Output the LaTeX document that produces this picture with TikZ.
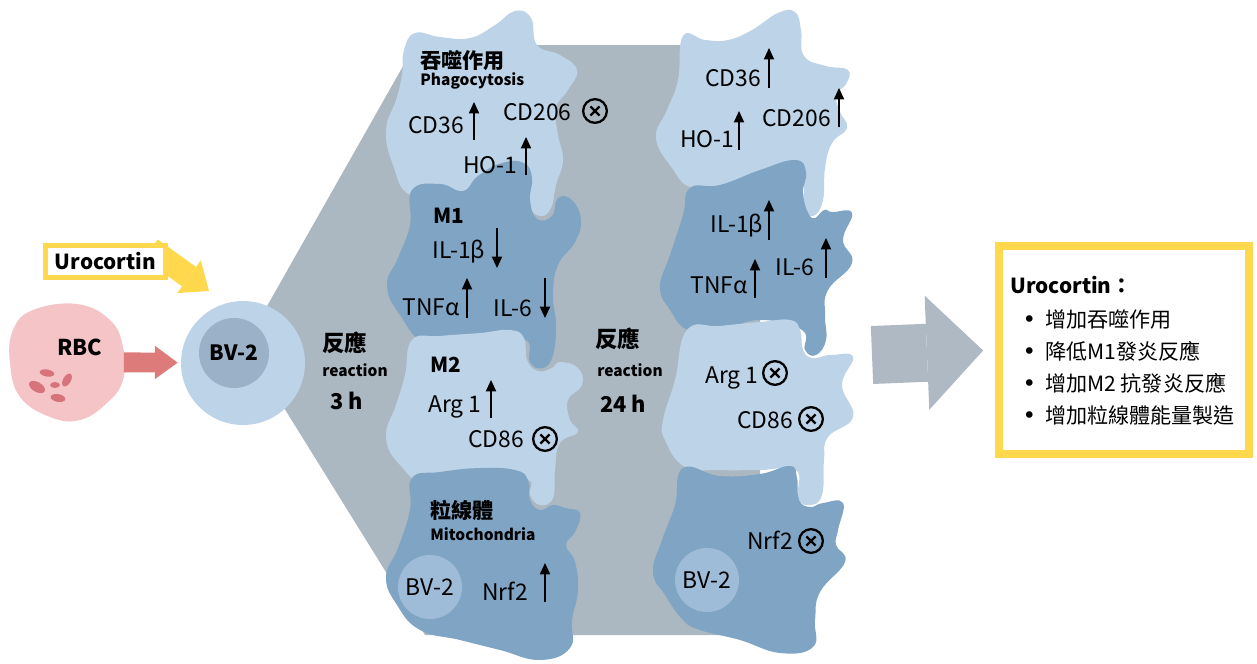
\documentclass[tikz,border=0pt]{standalone}
\usepackage{fontspec}
\setmainfont{Noto Sans CJK TC}
\newfontfamily\dotfont{DejaVu Sans}
\usetikzlibrary{arrows.meta}

\definecolor{cellpale}{HTML}{BDD3E7}
\definecolor{celldeep}{HTML}{7FA4C4}
\definecolor{nucpale}{HTML}{9EBCD7}
\definecolor{nucbv}{HTML}{9BB1C7}
\definecolor{slate}{HTML}{ABB8C2}
\definecolor{arrowgray}{HTML}{AEB9C3}
\definecolor{uroyellow}{HTML}{FFD84E}
\definecolor{rbcpink}{HTML}{F4C4C7}
\definecolor{rbcred}{HTML}{DD7B7B}
\definecolor{rbcdot}{HTML}{D7737A}

\pgfdeclarelayer{back}
\pgfsetlayers{back,main}

\newcommand\bul{\makebox[11.3pt][l]{\hspace{-1.5pt}\dotfont\fontsize{13}{14}\selectfont •}}

\tikzset{
  lbl/.style={inner sep=0pt,anchor=base west,font=\fontsize{13}{15}\selectfont},
  ttl/.style={inner sep=0pt,anchor=base west,font=\bfseries\fontsize{11.8}{14}\selectfont},
  zh/.style={inner sep=0pt,anchor=base west,font=\bfseries\fontsize{12}{14}\selectfont},
  en/.style={inner sep=0pt,anchor=base west,font=\bfseries\fontsize{8.8}{11}\selectfont},
  rx/.style={inner sep=0pt,anchor=base west,font=\bfseries\fontsize{8.8}{11}\selectfont},
  hrs/.style={inner sep=0pt,anchor=base west,font=\bfseries\fontsize{12.4}{15}\selectfont},
  pt/.style={inner sep=0pt,anchor=base west,font=\fontsize{12}{14}\selectfont},
  upar/.style={line width=1.1pt,-{Triangle[length=6.5pt,width=6pt,line width=0pt]}},
  nox/.style={circle,draw,line width=1.3pt,minimum size=13.5pt,inner sep=0pt,
    path picture={\draw[line width=1.3pt]
      ([xshift=-2.6pt,yshift=-2.6pt]path picture bounding box.center) -- ([xshift=2.6pt,yshift=2.6pt]path picture bounding box.center)
      ([xshift=-2.6pt,yshift=2.6pt]path picture bounding box.center) -- ([xshift=2.6pt,yshift=-2.6pt]path picture bounding box.center);}},
  nuc/.style={circle,fill=nucpale,minimum size=1.28cm,inner sep=0pt,font=\fontsize{13}{15}\selectfont},
  blob/.style={smooth cycle,tension=0.75},
}

\begin{document}
\begin{tikzpicture}[x=0.02cm,y=-0.02cm]
\useasboundingbox (0,0) rectangle (1257,663);

% backdrop behind both reaction columns
\fill[slate] (415,45) -- (760,45) -- (760,635) -- (425,635) -- (245,345) -- cycle;

% 3 h column
\fill[cellpale] plot[blob] coordinates {(404,50) (415,33) (440,37) (470,38) (495,25) (515,11) (531,18) (537,45) (560,55) (577,70) (568,90) (556,108) (558,135) (563,160) (556,185) (551,208) (540,216) (528,205) (522,180) (490,185) (450,195) (410,195) (393,165) (386,130) (396,100) (402,75)};
\fill[celldeep] plot[blob] coordinates {(412,190) (440,184) (463,191) (478,176) (502,163) (524,163) (532,178) (530,200) (537,219) (552,216) (558,198) (572,200) (581,220) (575,242) (558,265) (553,295) (556,325) (553,355) (543,368) (530,362) (526,340) (490,342) (430,345) (400,315) (387,285) (398,258) (410,225)};
\fill[cellpale] plot[blob] coordinates {(412,340) (440,336) (480,333) (510,330) (524,338) (527,360) (538,371) (552,368) (560,362) (578,368) (582,385) (568,400) (570,420) (578,432) (560,443) (555,470) (553,498) (540,505) (530,495) (528,480) (490,480) (430,485) (400,465) (386,437) (396,405) (405,375)};
\fill[celldeep] plot[blob] coordinates {(412,478) (440,472) (480,468) (515,470) (528,480) (530,500) (540,510) (553,505) (565,508) (580,513) (575,532) (566,545) (575,562) (578,590) (572,620) (570,648) (540,660) (500,650) (460,640) (420,630) (397,605) (386,577) (398,548) (410,510)};

% 24 h column
\fill[cellpale] plot[blob] coordinates {(683,36) (705,40) (728,40) (752,30) (778,13) (795,12) (801,30) (804,56) (826,66) (848,70) (846,84) (836,95) (840,112) (847,128) (832,143) (825,168) (823,200) (813,216) (803,205) (800,180) (760,175) (720,185) (690,187) (672,168) (656,138) (667,110) (678,80)};
\fill[celldeep] plot[blob] coordinates {(690,188) (720,185) (760,170) (795,160) (806,172) (803,195) (812,218) (824,210) (832,212) (852,213) (843,240) (852,263) (828,290) (825,315) (826,340) (816,355) (805,350) (802,330) (760,320) (720,330) (688,330) (670,310) (660,287) (670,255) (683,215)};
\fill[cellpale] plot[blob] coordinates {(687,330) (720,326) (760,322) (790,320) (800,330) (803,350) (812,358) (824,356) (832,355) (853,357) (842,385) (853,417) (828,437) (824,460) (822,495) (810,505) (798,498) (796,470) (760,470) (720,470) (685,467) (665,440) (663,420) (675,380)};
\fill[celldeep] plot[blob] coordinates {(683,468) (720,476) (760,474) (790,466) (797,478) (799,500) (810,507) (823,503) (843,503) (838,530) (836,545) (845,562) (820,592) (815,620) (813,647) (780,653) (740,640) (700,630) (683,620) (665,595) (653,572) (662,540) (675,505)};

% RBC
\fill[rbcpink] plot[smooth cycle,tension=0.7] coordinates {(33,310) (77,304) (110,320) (123,347) (123,380) (107,403) (80,420) (50,417) (20,397) (10,363) (13,330)};
\fill[rbcdot,rotate around={-10:(47,373)}] (47,373) ellipse (4.2pt and 2pt);
\fill[rbcdot,rotate around={60:(67,380)}] (67,380) ellipse (4pt and 2.2pt);
\fill[rbcdot,rotate around={-30:(37,387)}] (37,387) ellipse (5pt and 2.8pt);
\fill[rbcdot] (55,385) ellipse (2.8pt and 1.7pt);
\fill[rbcdot,rotate around={-10:(58,398)}] (58,398) ellipse (4.2pt and 2.2pt);
\node[circle,minimum size=2.3cm,inner sep=0pt] (rbc) at (66,362) {};
\node[ttl,font=\bfseries\fontsize{12.4}{15}\selectfont] (rbctxt) at (57,355) {RBC};

% BV-2 cell
\node[circle,fill=cellpale,minimum size=2.48cm,inner sep=0pt] (bv) at (243,363) {};
\node[circle,fill=nucbv,minimum size=1.4cm,inner sep=0pt,font=\bfseries\fontsize{12}{15}\selectfont] (bvcore) at (234,353) {BV-2};
\draw[rbcred,line width=11.3pt,-{Triangle[length=13pt,width=19pt,line width=0pt]},shorten >=1.7pt] (rbc) -- (bv);

% Urocortin input
\coordinate (urotip) at (209,291);
\node[draw=uroyellow,line width=2.8pt,fill=white,minimum width=2.4cm,minimum height=0.64cm,inner sep=0pt,font=\bfseries\fontsize{11.8}{14}\selectfont] (uro) at (105.5,261.5) {Urocortin};
\begin{pgfonlayer}{back}
\draw[uroyellow,line width=13.6pt,-{Triangle[length=14pt,width=23pt,line width=0pt]},shorten <=-12pt] (uro.east) -- (urotip);
\end{pgfonlayer}

% reaction times
\node[zh,font=\bfseries\fontsize{12.8}{15}\selectfont] (rxA) at (322,351) {反應};
\node[rx] (rxAen) at (322,376) {reaction};
\node[hrs] (rxAt) at (330,409) {3 h};
\node[zh,font=\bfseries\fontsize{12.8}{15}\selectfont] (rxB) at (595,347) {反應};
\node[rx] (rxBen) at (597,376) {reaction};
\node[hrs] (rxBt) at (600,412) {24 h};

% 3 h markers
\node[zh] (phagoZh) at (420,68) {吞噬作用};
\node[en] (phagoEn) at (420,85) {Phagocytosis};
\node[lbl] (cd36a) at (408,133) {CD36};
\draw[upar] (474,140) -- (474,102);
\node[lbl] (cd206a) at (503,120) {CD206};
\node[nox] (cd206aX) at (595,111) {};
\node[lbl] (ho1a) at (463,173) {HO-1};
\draw[upar] (526,175) -- (526,137);
\node[ttl] (m1) at (433,223) {M1};
\node[lbl] (il1a) at (432,258) {IL-1β};
\draw[upar] (497,228) -- (497,268);
\node[lbl] (tnfa) at (402,315) {TNFα};
\draw[upar] (467,318) -- (467,278);
\node[lbl] (il6a) at (493,316) {IL-6};
\draw[upar] (545,278) -- (545,318);
\node[ttl] (m2) at (430,372) {M2};
\node[lbl] (arga) at (428,412) {Arg 1};
\draw[upar] (491,418) -- (491,380);
\node[lbl] (cd86a) at (468,447) {CD86};
\node[nox] (cd86aX) at (545,439) {};
\node[zh] (mitoZh) at (430,518) {粒線體};
\node[en] (mitoEn) at (430,540) {Mitochondria};
\node[nuc] (bva) at (430,587) {BV-2};
\node[lbl] (nrfa) at (482,600) {Nrf2};
\draw[upar] (545,602) -- (545,563);

% 24 h markers
\node[lbl] (cd36b) at (705,86) {CD36};
\draw[upar] (769,88) -- (769,48);
\node[lbl] (ho1b) at (680,147) {HO-1};
\draw[upar] (739,150) -- (739,111);
\node[lbl] (cd206b) at (762,126) {CD206};
\draw[upar] (839,127) -- (839,88);
\node[lbl] (il1b) at (710,232) {IL-1β};
\draw[upar] (769,240) -- (769,200);
\node[lbl] (tnfb) at (690,293) {TNFα};
\draw[upar] (755,298) -- (755,259);
\node[lbl] (il6b) at (775,275) {IL-6};
\draw[upar] (826,278) -- (826,238);
\node[lbl] (argb) at (705,383) {Arg 1};
\node[nox] (argbX) at (775,373) {};
\node[lbl] (cd86b) at (737,428) {CD86};
\node[nox] (cd86bX) at (811,419) {};
\node[lbl] (nrfb) at (747,549) {Nrf2};
\node[nox] (nrfbX) at (811,541) {};
\node[nuc] (bvb) at (707,580) {BV-2};

% summary
\node[draw=uroyellow,line width=4.5pt,fill=white,minimum width=5cm,minimum height=4.16cm,inner sep=0pt] (sumbox) at (1124,350) {};
\coordinate (flowstart) at (872,355);
\draw[arrowgray,line width=33pt,-{Triangle[length=32pt,width=65pt,line width=0pt]},shorten >=6.8pt] (flowstart) -- (sumbox.west);
\node[ttl] (sumhead) at (1010,293) {Urocortin：};
\node[pt] (sumA) at (1025,327) {\bul 增加吞噬作用};
\node[pt] (sumB) at (1025,359) {\bul 降低M1發炎反應};
\node[pt] (sumC) at (1025,391) {\bul 增加M2 抗發炎反應};
\node[pt] (sumD) at (1025,423) {\bul 增加粒線體能量製造};
\end{tikzpicture}
\end{document}
